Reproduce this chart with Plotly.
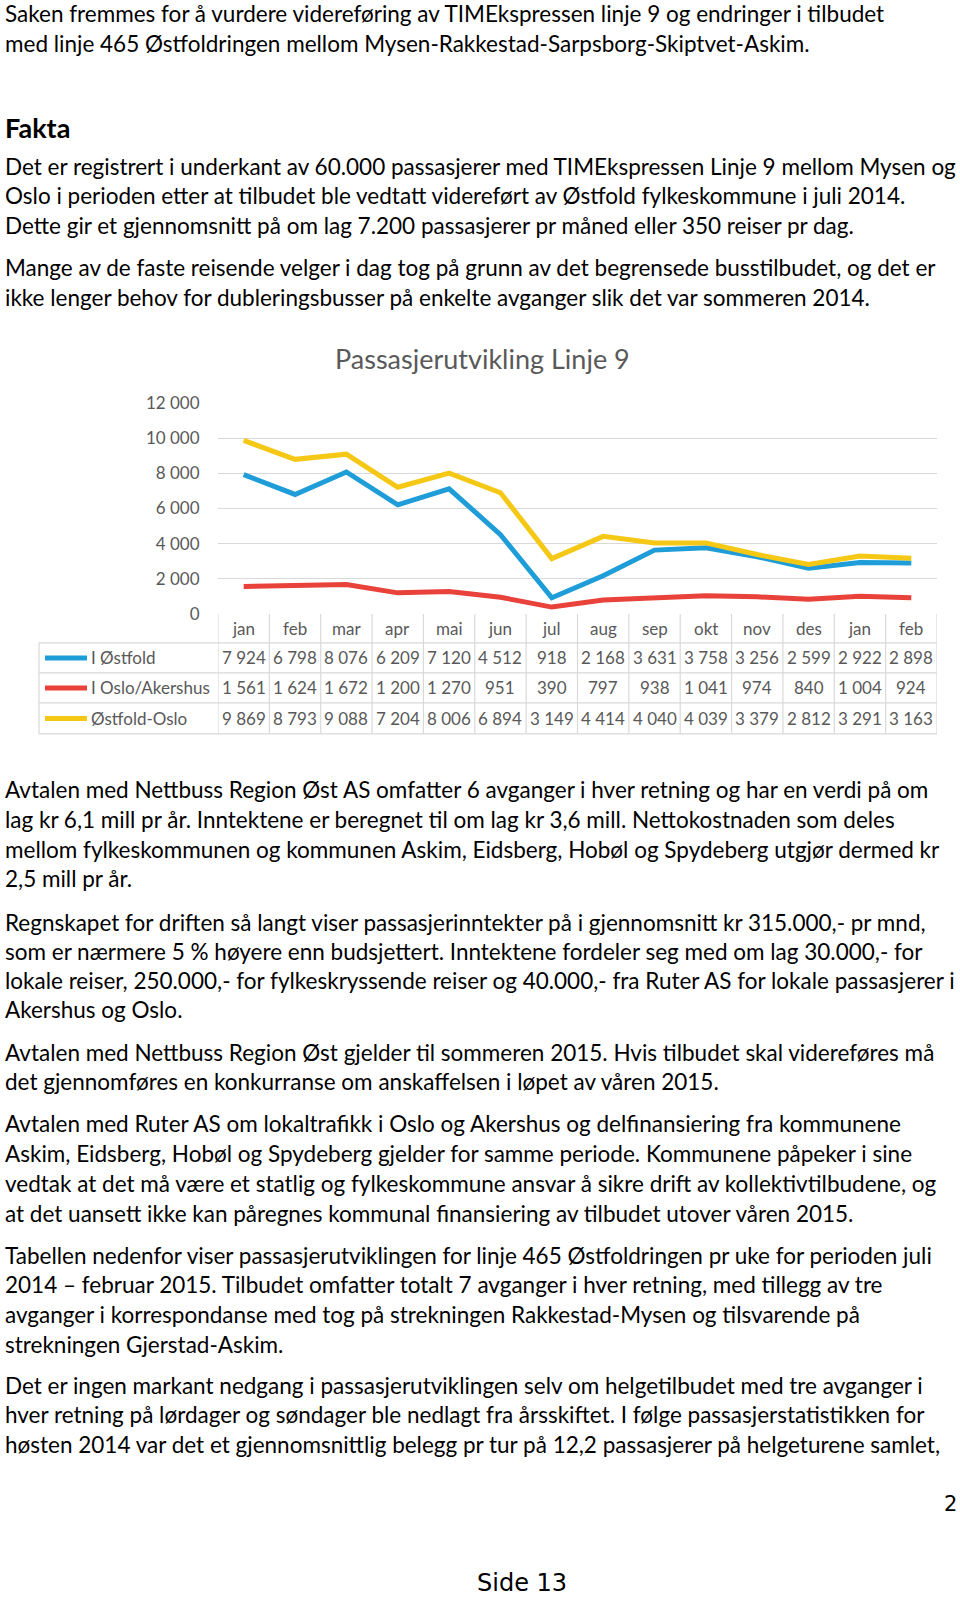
import plotly.graph_objects as go

W, H = 960, 1604

# ---------------- data ----------------
months = ["jan", "feb", "mar", "apr", "mai", "jun", "jul", "aug", "sep", "okt", "nov", "des", "jan", "feb"]
series_names = ["I Østfold", "I Oslo/Akershus", "Østfold-Oslo"]
ostfold = [7924, 6798, 8076, 6209, 7120, 4512, 918, 2168, 3631, 3758, 3256, 2599, 2922, 2898]
oslo_akershus = [1561, 1624, 1672, 1200, 1270, 951, 390, 797, 938, 1041, 974, 840, 1004, 924]
ostfold_oslo = [9869, 8793, 9088, 7204, 8006, 6894, 3149, 4414, 4040, 4039, 3379, 2812, 3291, 3163]
y_ticks = [0, 2000, 4000, 6000, 8000, 10000, 12000]
chart_title = "Passasjerutvikling Linje 9"

colors = ["#1E9DD8", "#E8423B", "#F5C816"]
series = [ostfold, oslo_akershus, ostfold_oslo]

paragraphs_top = [
    ["Saken fremmes for å vurdere videreføring av TIMEkspressen linje 9 og endringer i tilbudet",
     "med linje 465 Østfoldringen mellom Mysen-Rakkestad-Sarpsborg-Skiptvet-Askim."],
]
heading = "Fakta"
paragraphs_mid = [
    ["Det er registrert i underkant av 60.000 passasjerer med TIMEkspressen Linje 9 mellom Mysen og",
     "Oslo i perioden etter at tilbudet ble vedtatt videreført av Østfold fylkeskommune i juli 2014.",
     "Dette gir et gjennomsnitt på om lag 7.200 passasjerer pr måned eller 350 reiser pr dag."],
    ["Mange av de faste reisende velger i dag tog på grunn av det begrensede busstilbudet, og det er",
     "ikke lenger behov for dubleringsbusser på enkelte avganger slik det var sommeren 2014."],
]
paragraphs_bottom = [
    ["Avtalen med Nettbuss Region Øst AS omfatter 6 avganger i hver retning og har en verdi på om",
     "lag kr 6,1 mill pr år. Inntektene er beregnet til om lag kr 3,6 mill. Nettokostnaden som deles",
     "mellom fylkeskommunen og kommunen Askim, Eidsberg, Hobøl og Spydeberg utgjør dermed kr",
     "2,5 mill pr år."],
    ["Regnskapet for driften så langt viser passasjerinntekter på i gjennomsnitt kr 315.000,- pr mnd,",
     "som er nærmere 5 % høyere enn budsjettert. Inntektene fordeler seg med om lag 30.000,- for",
     "lokale reiser, 250.000,- for fylkeskryssende reiser og 40.000,- fra Ruter AS for lokale passasjerer i",
     "Akershus og Oslo."],
    ["Avtalen med Nettbuss Region Øst gjelder til sommeren 2015. Hvis tilbudet skal videreføres må",
     "det gjennomføres en konkurranse om anskaffelsen i løpet av våren 2015."],
    ["Avtalen med Ruter AS om lokaltrafikk i Oslo og Akershus og delfinansiering fra kommunene",
     "Askim, Eidsberg, Hobøl og Spydeberg gjelder for samme periode. Kommunene påpeker i sine",
     "vedtak at det må være et statlig og fylkeskommune ansvar å sikre drift av kollektivtilbudene, og",
     "at det uansett ikke kan påregnes kommunal finansiering av tilbudet utover våren 2015."],
    ["Tabellen nedenfor viser passasjerutviklingen for linje 465 Østfoldringen pr uke for perioden juli",
     "2014 – februar 2015. Tilbudet omfatter totalt 7 avganger i hver retning, med tillegg av tre",
     "avganger i korrespondanse med tog på strekningen Rakkestad-Mysen og tilsvarende på",
     "strekningen Gjerstad-Askim."],
    ["Det er ingen markant nedgang i passasjerutviklingen selv om helgetilbudet med tre avganger i",
     "hver retning på lørdager og søndager ble nedlagt fra årsskiftet. I følge passasjerstatistikken for",
     "høsten 2014 var det et gjennomsnittlig belegg pr tur på 12,2 passasjerer på helgeturene samlet,"],
]
page_no_right = "2"
page_footer = "Side 13"


# ---------------- helpers ----------------
def X(px):
    return px / W


def Y(py):
    # small vertical calibration against the rendered page
    p = (py - 9) / 0.987
    return 1 - p / H


def fmt(v):
    return f"{v:,}".replace(",", " ")


BODY_FONT = "Lato"
BODY_SIZE = 22.5
GRAY = "#595959"
GRID = "#D9D9D9"
CELL_SIZE = 17

fig = go.Figure()

for name, vals, col in zip(series_names, series, colors):
    fig.add_trace(go.Scatter(
        x=list(range(len(months))), y=vals, mode="lines", name=name,
        line=dict(color=col, width=5), showlegend=False, hoverinfo="skip"))

annotations = []
shapes = []


def add_lines(lines, ys, bold=False, size=BODY_SIZE):
    for t, yy in zip(lines, ys):
        annotations.append(dict(
            x=X(3), y=Y(yy), xref="paper", yref="paper", xanchor="left", yanchor="middle",
            text=("<b>%s</b>" % t) if bold else t, showarrow=False,
            font=dict(family=BODY_FONT, size=size, color="#000000")))


line_y_top = [[12, 42]]
line_y_mid = [[165, 194, 224], [266, 296]]
line_y_bottom = [[788, 818, 848, 877], [921, 950, 979, 1008], [1051, 1080],
                 [1122, 1152, 1182, 1212], [1254, 1283, 1313, 1343], [1384, 1413, 1443]]

for p, ys in zip(paragraphs_top, line_y_top):
    add_lines(p, ys)
add_lines([heading], [126], bold=True, size=27)
for p, ys in zip(paragraphs_mid, line_y_mid):
    add_lines(p, ys)
for p, ys in zip(paragraphs_bottom, line_y_bottom):
    add_lines(p, ys)

annotations.append(dict(x=X(959), y=Y(1502), xref="paper", yref="paper", xanchor="right",
                        yanchor="middle", text=page_no_right, showarrow=False,
                        font=dict(family="DejaVu Sans", size=21, color="#000000")))
annotations.append(dict(x=X(522), y=Y(1581), xref="paper", yref="paper", xanchor="center",
                        yanchor="middle", text=page_footer, showarrow=False,
                        font=dict(family="DejaVu Sans", size=24, color="#000000")))

annotations.append(dict(x=X(482), y=Y(357), xref="paper", yref="paper", xanchor="center",
                        yanchor="middle", text=chart_title, showarrow=False,
                        font=dict(family=BODY_FONT, size=27, color=GRAY)))

# ---- data table ----
T_TOP, ROW_B = 612, [641, 671, 701, 732]
LEG_L = 39
n = len(months)
for i, m in enumerate(months):
    annotations.append(dict(x=i, y=Y((T_TOP + ROW_B[0]) / 2), xref="x", yref="paper",
                            xanchor="center", yanchor="middle", text=m, showarrow=False,
                            font=dict(family=BODY_FONT, size=CELL_SIZE, color=GRAY)))
for r, (name, vals, col) in enumerate(zip(series_names, series, colors)):
    yc = (ROW_B[r] + ROW_B[r + 1]) / 2
    for i, v in enumerate(vals):
        annotations.append(dict(x=i, y=Y(yc), xref="x", yref="paper", xanchor="center",
                                yanchor="middle", text=fmt(v), showarrow=False,
                                font=dict(family=BODY_FONT, size=CELL_SIZE, color=GRAY)))
    annotations.append(dict(x=X(89), y=Y(yc), xref="paper", yref="paper", xanchor="left",
                            yanchor="middle", text=name, showarrow=False,
                            font=dict(family=BODY_FONT, size=CELL_SIZE, color=GRAY)))
    shapes.append(dict(type="line", xref="paper", yref="paper", x0=X(45), x1=X(87),
                       y0=Y(yc), y1=Y(yc), line=dict(color=col, width=5)))

for i in range(n + 1):
    shapes.append(dict(type="line", xref="x", yref="paper", x0=i - 0.5, x1=i - 0.5,
                       y0=Y(T_TOP), y1=Y(ROW_B[-1]), line=dict(color=GRID, width=1.2)))
shapes.append(dict(type="line", xref="paper", yref="paper", x0=X(LEG_L), x1=X(LEG_L),
                   y0=Y(ROW_B[0]), y1=Y(ROW_B[-1]), line=dict(color=GRID, width=1.2)))
for yb in ROW_B:
    shapes.append(dict(type="line", xref="paper", yref="paper", x0=X(LEG_L), x1=X(937),
                       y0=Y(yb), y1=Y(yb), line=dict(color=GRID, width=1.2)))

fig.update_layout(
    width=W, height=H, margin=dict(l=0, r=0, t=0, b=0),
    paper_bgcolor="white", plot_bgcolor="white",
    annotations=annotations, shapes=shapes,
    xaxis=dict(domain=[X(218), X(937)], range=[-0.5, n - 0.5], showticklabels=False,
               showgrid=False, zeroline=False, showline=False, fixedrange=True),
    yaxis=dict(domain=[Y(612), Y(401)], range=[0, 12000], tickvals=y_ticks,
               ticktext=[fmt(v) for v in y_ticks], showgrid=True, gridcolor=GRID, gridwidth=1.2,
               zeroline=False, showline=False, ticks="outside", ticklen=14,
               tickcolor="rgba(0,0,0,0)",
               tickfont=dict(family=BODY_FONT, size=17, color=GRAY), fixedrange=True),
)

fig.write_html("out.html", config={"displayModeBar": False},
               post_script="document.body.style.margin='0';document.body.style.overflow='hidden';")
